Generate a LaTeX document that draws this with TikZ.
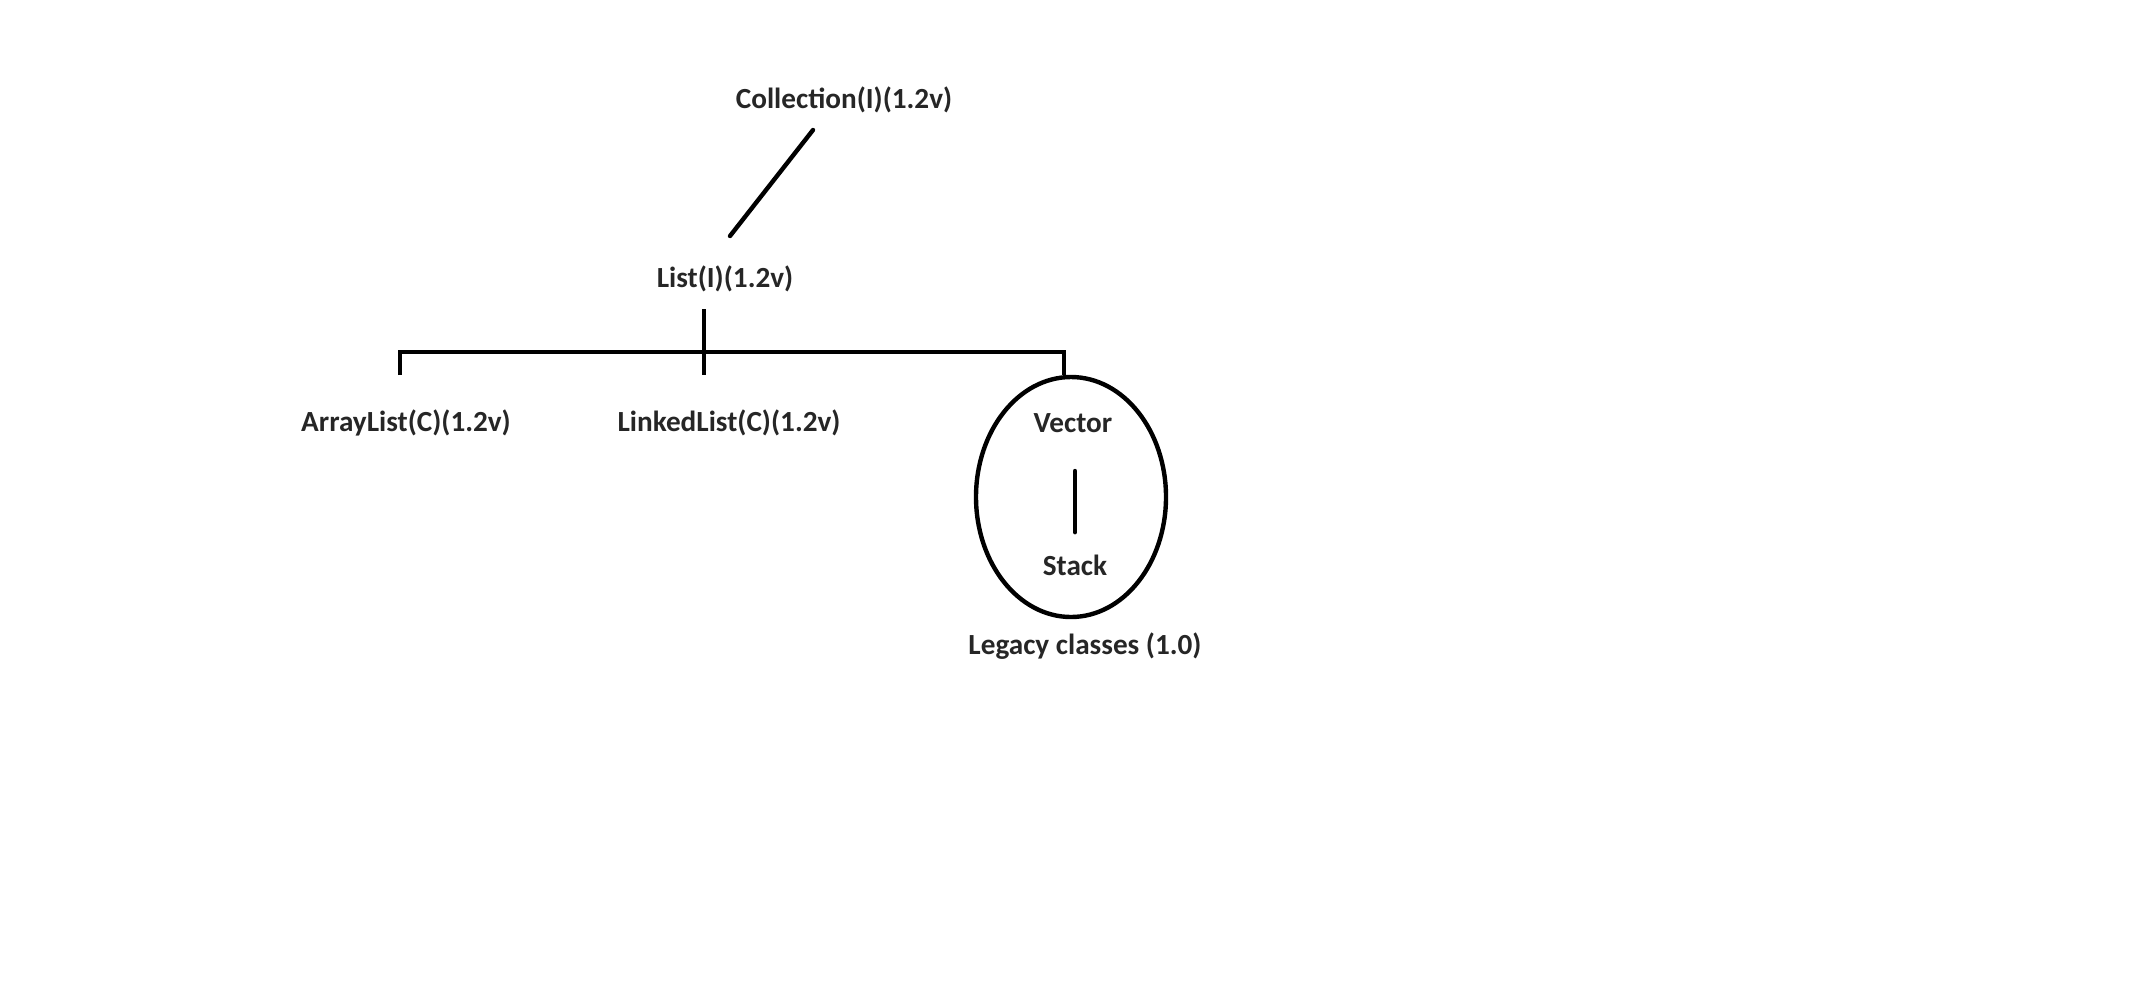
\documentclass[tikz,border=0pt]{standalone}
\usepackage{fontspec}
\setmainfont{Carlito}
\usetikzlibrary{
		calc,
		positioning,
		shapes.geometric
	}
\tikzset{
		>=stealth
	}

\begin{document}
\begin{tikzpicture}[x=0.5pt, y=-0.5pt,
	cls/.style={font=\fontsize{14.6}{17}\selectfont\bfseries, text=black!85, inner sep=0pt},
	link/.style={draw, line width=2.2pt}]
	\useasboundingbox (0,0) rectangle (2156,997);
	\node[cls] (coll) at (844,100) {Collection(I)(1.2v)};
	\node[cls] (list) at (725,279) {List(I)(1.2v)};
	\node[cls] (arr) at (406,423) {ArrayList(C)(1.2v)};
	\node[cls] (linked) at (729,423) {LinkedList(C)(1.2v)};
	\node[draw, ellipse, line width=2.2pt, minimum width=95pt, minimum height=120pt] (legacy) at (1071,497) {};
	\node[cls] (vec) at (1073,423) {Vector};
	\node[cls] (stack) at (1075,565) {Stack};
	\node[cls] (legacytxt) at (1085,646) {Legacy classes (1.0)};
	% Collection -> List
	\coordinate (coll-end) at (813,130);
	\coordinate (list-end) at (730,236);
	\draw[link, line cap=round] (coll-end) -- (list-end);
	% List -> the three classes
	\coordinate (bar-l) at (400,352);
	\coordinate (bar-r) at (1064,352);
	\coordinate (list-top) at (704,309);
	\draw[link] ($(bar-l)+(0,23)$) -- (bar-l) -- (bar-r) -- (bar-r |- legacy.north);
	\draw[link] (list-top) -- ($(list-top)+(0,66)$);
	% Vector -> Stack
	\draw[link, line cap=round] ($(vec.south)+(2,38)$) -- ($(stack.north)+(0,-22)$);
\end{tikzpicture}
\end{document}
